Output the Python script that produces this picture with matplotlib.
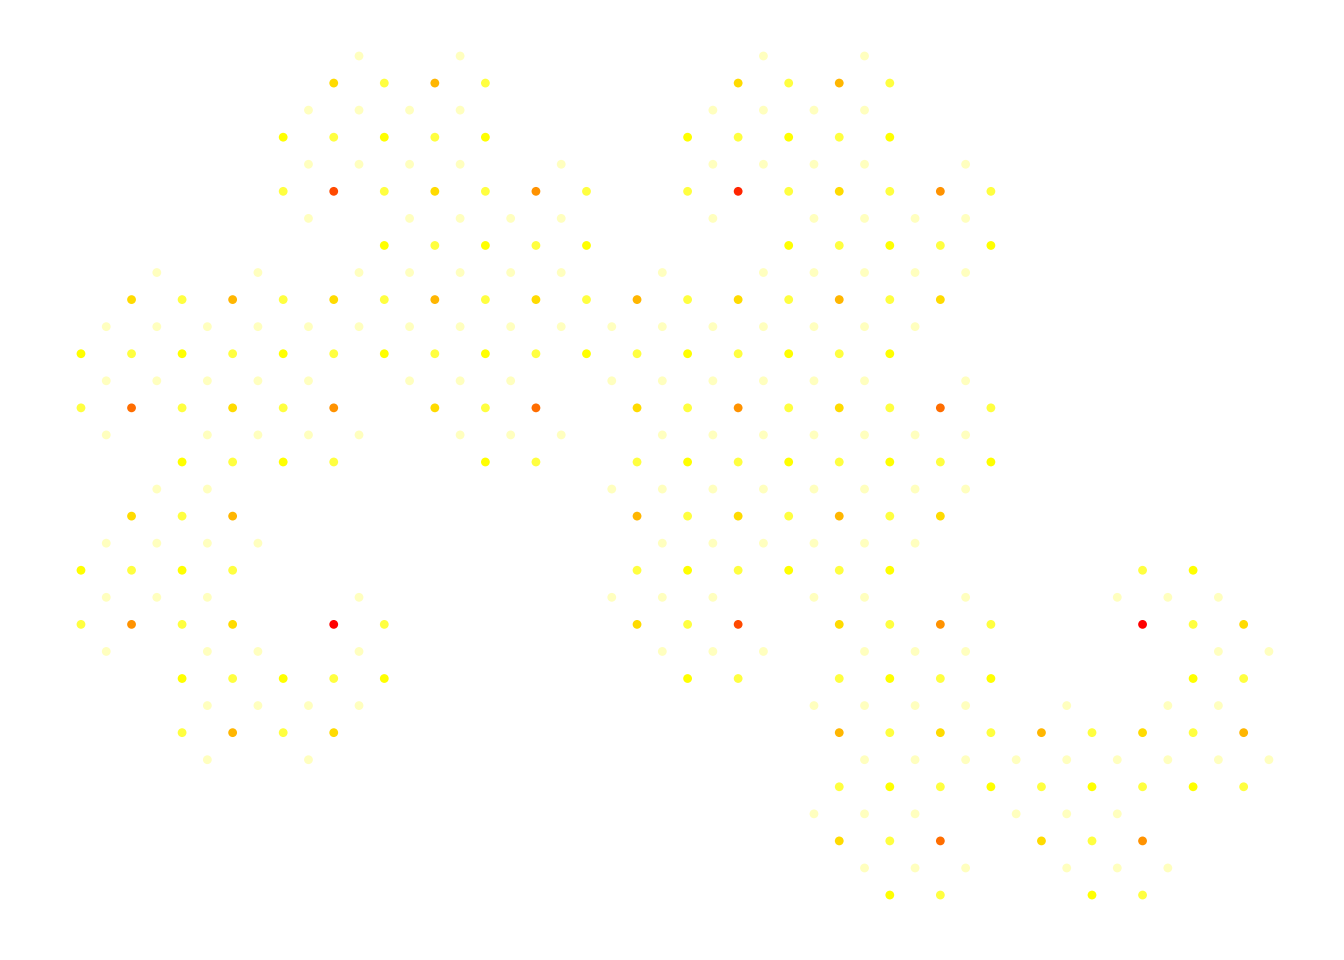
import matplotlib
matplotlib.use("Agg")
import matplotlib.pyplot as plt
from matplotlib.colors import ListedColormap, BoundaryNorm
import numpy as np

# heat palette (10 levels): 0 = red ... 9 = pale yellow
heat_palette = ["#FF0000", "#FF2400", "#FF4900", "#FF6D00", "#FF9200",
                "#FFB600", "#FFDB00", "#FFFF00", "#FFFF40", "#FFFFBF"]

# pale spots (level 9) on even grid rows: row -> columns
pale_rows = [0, 2, 4, 6, 8, 10, 12, 14, 16, 18, 20, 22, 24, 26, 28, 30]
pale_cols = [
    [11, 15, 27, 31],
    [9, 11, 13, 15, 25, 27, 29, 31],
    [9, 11, 13, 15, 19, 25, 27, 29, 31, 35],
    [9, 13, 15, 17, 19, 25, 29, 31, 33, 35],
    [3, 7, 11, 13, 15, 17, 19, 23, 27, 29, 31, 33, 35],
    [1, 3, 5, 7, 9, 11, 13, 15, 17, 19, 21, 23, 25, 27, 29, 31, 33],
    [1, 3, 5, 7, 9, 13, 15, 17, 21, 23, 25, 27, 29, 31, 35],
    [1, 5, 7, 9, 11, 15, 17, 19, 23, 25, 27, 29, 31, 33, 35],
    [3, 5, 21, 23, 25, 27, 29, 31, 33, 35],
    [1, 3, 5, 7, 23, 25, 27, 29, 31, 33],
    [1, 3, 5, 11, 21, 23, 25, 29, 31, 35, 41, 43, 45],
    [1, 5, 7, 11, 23, 25, 27, 31, 33, 35, 45, 47],
    [5, 7, 9, 11, 29, 31, 33, 35, 39, 43, 45],
    [5, 9, 31, 33, 35, 37, 39, 41, 43, 45, 47],
    [29, 31, 33, 37, 39, 41],
    [31, 33, 35, 39, 41, 43],
]

# coloured spots on odd grid rows: row -> (column, level)
color_rows = [1, 3, 5, 7, 9, 11, 13, 15, 17, 19, 21, 23, 25, 27, 29, 31]
color_spots = [
    [(10, 6), (12, 8), (14, 5), (16, 8), (26, 6), (28, 8), (30, 5), (32, 8)],
    [(8, 7), (10, 8), (12, 7), (14, 8), (16, 7), (24, 7), (26, 8), (28, 7), (30, 8), (32, 7)],
    [(8, 8), (10, 2), (12, 8), (14, 6), (16, 8), (18, 4), (20, 8), (24, 8), (26, 1), (28, 8),
     (30, 6), (32, 8), (34, 4), (36, 8)],
    [(12, 7), (14, 8), (16, 7), (18, 8), (20, 7), (28, 7), (30, 8), (32, 7), (34, 8), (36, 7)],
    [(2, 6), (4, 8), (6, 5), (8, 8), (10, 6), (12, 8), (14, 5), (16, 8), (18, 6), (20, 8),
     (22, 5), (24, 8), (26, 6), (28, 8), (30, 5), (32, 8), (34, 6)],
    [(0, 7), (2, 8), (4, 7), (6, 8), (8, 7), (10, 8), (12, 7), (14, 8), (16, 7), (18, 8),
     (20, 7), (22, 8), (24, 7), (26, 8), (28, 7), (30, 8), (32, 7)],
    [(0, 8), (2, 3), (4, 8), (6, 6), (8, 8), (10, 4), (14, 6), (16, 8), (18, 3), (22, 6),
     (24, 8), (26, 4), (28, 8), (30, 6), (32, 8), (34, 3), (36, 8)],
    [(4, 7), (6, 8), (8, 7), (10, 8), (16, 7), (18, 8), (22, 8), (24, 7), (26, 8), (28, 7),
     (30, 8), (32, 7), (34, 8), (36, 7)],
    [(2, 6), (4, 8), (6, 5), (22, 5), (24, 8), (26, 6), (28, 8), (30, 5), (32, 8), (34, 6)],
    [(0, 7), (2, 8), (4, 7), (6, 8), (22, 8), (24, 7), (26, 8), (28, 7), (30, 8), (32, 7),
     (42, 8), (44, 7)],
    [(0, 8), (2, 4), (4, 8), (6, 6), (10, 0), (12, 8), (22, 6), (24, 8), (26, 2), (30, 6),
     (32, 8), (34, 4), (36, 8), (42, 0), (44, 8), (46, 6)],
    [(4, 7), (6, 8), (8, 7), (10, 8), (12, 7), (24, 7), (26, 8), (30, 8), (32, 7), (34, 8),
     (36, 7), (44, 7), (46, 8)],
    [(4, 8), (6, 5), (8, 8), (10, 6), (30, 5), (32, 8), (34, 6), (36, 8), (38, 5), (40, 8),
     (42, 6), (44, 8), (46, 5)],
    [(30, 8), (32, 7), (34, 8), (36, 7), (38, 8), (40, 7), (42, 8), (44, 7), (46, 8)],
    [(30, 6), (32, 8), (34, 3), (38, 6), (40, 8), (42, 4)],
    [(32, 7), (34, 8), (40, 7), (42, 8)],
]

xs, ys, levels = [], [], []
for r, cols in zip(pale_rows, pale_cols):
    for c in cols:
        xs.append(c); ys.append(r); levels.append(9)
for r, spots in zip(color_rows, color_spots):
    for c, lv in spots:
        xs.append(c); ys.append(r); levels.append(lv)

cmap = ListedColormap(heat_palette)
norm = BoundaryNorm(np.arange(-0.5, 10.5, 1), cmap.N)

fig = plt.figure(figsize=(13.44, 9.6), dpi=100)
ax = fig.add_axes([0, 0, 1, 1])
ax.scatter(xs, ys, c=levels, cmap=cmap, norm=norm, s=40, edgecolors="none")
ax.set_xlim(-3.204, 49.97)
ax.set_ylim(33.40, -2.069)
ax.axis("off")
fig.savefig("out.png", dpi=100, facecolor="white")
